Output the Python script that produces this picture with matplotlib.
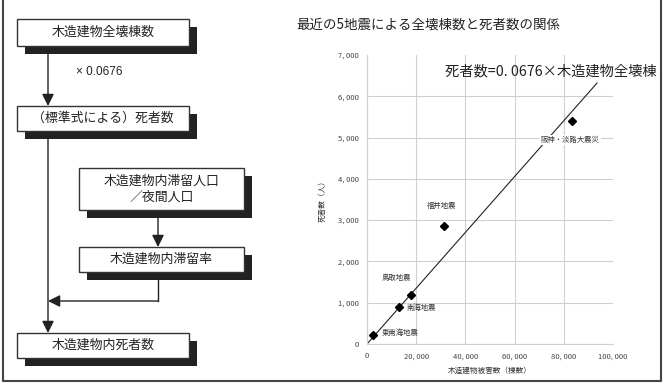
import matplotlib
matplotlib.use("Agg")
import matplotlib.pyplot as plt
from matplotlib.patches import Rectangle

plt.rcParams['font.family'] = ['Noto Sans CJK JP', 'DejaVu Sans']

# data: 5 recent earthquakes (collapsed wooden buildings vs deaths)
quake_names = ["東南海地震", "南海地震", "鳥取地震", "福井地震", "阪神・淡路大震災"]
collapsed = [2300, 13200, 17700, 31400, 83400]
deaths = [210, 900, 1180, 2870, 5390]
label_pos = [(13400, 265), (21900, 870), (11900, 1600), (30500, 3340), (82500, 4940)]
coef = 0.0676
line_x = [0, 93500]
x_ticks = [0, 20000, 40000, 60000, 80000, 100000]
y_ticks = [0, 1000, 2000, 3000, 4000, 5000, 6000, 7000]

# flowchart boxes: (text, left, top, right, bottom) in pixels
flow_boxes = [
    ("木造建物全壊棟数", 17, 19, 189, 46),
    ("（標準式による）死者数", 17, 106, 189, 131),
    ("木造建物内滞留人口\n／夜間人口", 79, 168, 244, 210),
    ("木造建物内滞留率", 79, 247, 244, 272),
    ("木造建物内死者数", 17, 333, 189, 358),
]

W, H = 666, 383
fig = plt.figure(figsize=(W / 100, H / 100), dpi=100)

# overlay in pixel coords for the flowchart and frame
ov = fig.add_axes([0, 0, 1, 1])
ov.set_xlim(0, W)
ov.set_ylim(H, 0)
ov.axis('off')

# outer frame
ov.plot([3, 3, 661, 661], [0, 381, 381, 0], color='#444', lw=1.5, solid_capstyle='butt')

for text, l, t, r, b in flow_boxes:
    ov.add_patch(Rectangle((l + 8, t + 8), r - l, b - t, facecolor='#222', edgecolor='none', zorder=2))
    ov.add_patch(Rectangle((l, t), r - l, b - t, facecolor='white', edgecolor='#333', lw=1, zorder=3))
    ov.text((l + r) / 2, (t + b) / 2, text, ha='center', va='center', fontsize=9.3,
            color='#222', linespacing=1.25, zorder=4)

arrow = dict(arrowstyle='-|>', color='#222', lw=1, mutation_scale=18, shrinkA=0, shrinkB=0)
ov.annotate('', xy=(48, 106), xytext=(48, 46), arrowprops=arrow, zorder=1)
ov.annotate('', xy=(48, 333), xytext=(48, 131), arrowprops=arrow, zorder=1)
ov.annotate('', xy=(158, 247), xytext=(158, 210), arrowprops=arrow, zorder=1)
ov.plot([158, 158], [272, 301], color='#222', lw=1, zorder=1)
ov.annotate('', xy=(48, 301), xytext=(158, 301), arrowprops=arrow, zorder=1)
ov.text(76, 72, "× 0.0676", fontsize=8.5, color='#222', va='center', ha='left',
        family=['Liberation Sans', 'DejaVu Sans'])

# title
ov.text(296, 25, "最近の5地震による全壊棟数と死者数の関係", fontsize=9.7, color='#222',
        ha='left', va='center')

# scatter chart
ax = fig.add_axes([367 / W, 39 / H, 246 / W, 289 / H])
ax.set_facecolor('none')
ax.set_xlim(0, 100000)
ax.set_ylim(0, 7000)
ax.set_xticks(x_ticks)
ax.set_yticks(y_ticks)
ax.set_xticklabels([f"{v:,}".replace(",", ", ") for v in x_ticks])
ax.set_yticklabels([f"{v:,}".replace(",", ", ") for v in y_ticks])
ax.tick_params(length=0, labelsize=5.5, labelcolor='#444', pad=6)
ax.grid(True, color='#d0d0d0', lw=0.8)
ax.xaxis.get_gridlines()[-1].set_visible(False)
ax.yaxis.get_gridlines()[-1].set_visible(False)
for s in ['top', 'right']:
    ax.spines[s].set_visible(False)
for s in ['left', 'bottom']:
    ax.spines[s].set_color('#d0d0d0')
ax.set_axisbelow(True)

ax.plot(line_x, [coef * v for v in line_x], color='#222', lw=0.8)
ax.plot(collapsed, deaths, 'D', color='black', markersize=4, zorder=5)
for name, (lx, ly) in zip(quake_names, label_pos):
    bb = dict(facecolor='white', edgecolor='none', pad=1) if name == "阪神・淡路大震災" else None
    ax.text(lx, ly, name, fontsize=5.3, color='#333', ha='center', va='center', bbox=bb, zorder=6)

ax.set_xlabel("木造建物被害数（棟数）", fontsize=5.5, color='#333', labelpad=5)
ax.set_ylabel("死者数（人）", fontsize=5.5, color='#333', labelpad=8)

# regression equation
ax.text(445, 71, "死者数=0. 0676×木造建物全壊棟", fontsize=10.3, color='#222',
        ha='left', va='center', transform=ov.transData, zorder=7)

fig.savefig("out.png", dpi=100)
